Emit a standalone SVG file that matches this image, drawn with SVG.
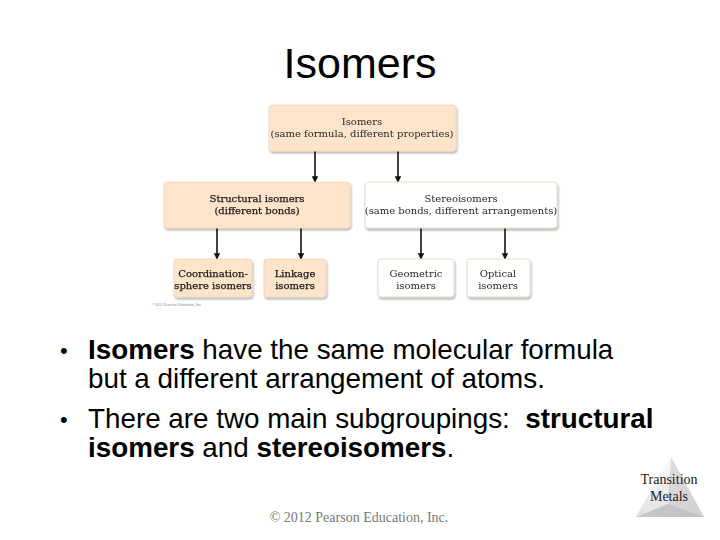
<svg xmlns="http://www.w3.org/2000/svg" width="720" height="540" viewBox="0 0 720 540">
<defs>
<style>
.node{font-family:"DejaVu Serif","Liberation Serif",serif;font-size:10px;fill:#2a2a2a;text-anchor:middle}
.b{fill:#1a1a1a;stroke:#1a1a1a;stroke-width:0.25}
.peach{fill:#fde4cb;stroke:#f3d6b8;stroke-width:0.8}
.white{fill:#ffffff;stroke:#e8dccd;stroke-width:1}
.body{font-family:"Liberation Sans",Arial,sans-serif;font-size:27.8px;fill:#000}
.bul{font-family:"Liberation Sans",Arial,sans-serif;font-size:22px;fill:#000}
.conn{stroke:#111;stroke-width:1.6;fill:none;marker-end:url(#ah)}
</style>
<marker id="ah" viewBox="0 0 10 10" refX="9" refY="5" markerWidth="4" markerHeight="4" orient="auto" markerUnits="strokeWidth">
<path d="M0,0 L10,5 L0,10 z" fill="#111"/>
</marker>
<filter id="sh" x="-10%" y="-10%" width="125%" height="135%">
<feGaussianBlur in="SourceAlpha" stdDeviation="1.2"/>
<feOffset dx="1" dy="1.5" result="b"/>
<feComponentTransfer><feFuncA type="linear" slope="0.3"/></feComponentTransfer>
<feMerge><feMergeNode/><feMergeNode in="SourceGraphic"/></feMerge>
</filter>
<linearGradient id="tg" x1="0" y1="0" x2="1" y2="1">
<stop offset="0" stop-color="#f4f4f4"/>
<stop offset="1" stop-color="#c8c8c8"/>
</linearGradient>
<linearGradient id="tg2" x1="0" y1="0" x2="0" y2="1">
<stop offset="0" stop-color="#ffffff"/>
<stop offset="1" stop-color="#e2e2e2"/>
</linearGradient>
</defs>
<rect width="720" height="540" fill="#fff"/>

<text x="360" y="78" font-family="Liberation Sans,Arial,sans-serif" font-size="43" text-anchor="middle" fill="#000">Isomers</text>

<g id="connectors">
<line class="conn" x1="315" y1="151" x2="315" y2="182"/>
<line class="conn" x1="398" y1="151" x2="398" y2="182"/>
<line class="conn" x1="217" y1="228" x2="217" y2="259"/>
<line class="conn" x1="301" y1="228" x2="301" y2="259"/>
<line class="conn" x1="421" y1="228" x2="421" y2="259"/>
<line class="conn" x1="505" y1="228" x2="505" y2="259"/>
</g>

<g id="n-isomers" filter="url(#sh)">
<rect class="peach" x="269" y="105" width="187" height="46" rx="3"/>
<text class="node" x="362" y="125">Isomers</text>
<text class="node" x="362" y="137">(same formula, different properties)</text>
</g>
<g id="n-structural" filter="url(#sh)">
<rect class="peach" x="164" y="182" width="186" height="46" rx="3"/>
<text class="node b" x="257" y="202">Structural isomers</text>
<text class="node b" x="257" y="214">(different bonds)</text>
</g>
<g id="n-stereo" filter="url(#sh)">
<rect class="white" x="365" y="182" width="192" height="46" rx="3"/>
<text class="node" x="461" y="202">Stereoisomers</text>
<text class="node" x="461" y="214">(same bonds, different arrangements)</text>
</g>
<g id="n-coord" filter="url(#sh)">
<rect class="peach" x="174" y="259" width="78" height="38" rx="3"/>
<text class="node b" x="213" y="277">Coordination-</text>
<text class="node b" x="213" y="289">sphere isomers</text>
</g>
<g id="n-linkage" filter="url(#sh)">
<rect class="peach" x="264" y="259" width="62" height="38" rx="3"/>
<text class="node b" x="295" y="277">Linkage</text>
<text class="node b" x="295" y="289">isomers</text>
</g>
<g id="n-geometric" filter="url(#sh)">
<rect class="white" x="378" y="259" width="76" height="38" rx="3"/>
<text class="node" x="416" y="277">Geometric</text>
<text class="node" x="416" y="289">isomers</text>
</g>
<g id="n-optical" filter="url(#sh)">
<rect class="white" x="467" y="259" width="63" height="38" rx="3"/>
<text class="node" x="498" y="277">Optical</text>
<text class="node" x="498" y="289">isomers</text>
</g>
<text x="152" y="306" font-family="Liberation Serif,serif" font-size="4" fill="#888">©2012 Pearson Education, Inc.</text>

<text class="bul" x="60" y="358">•</text>
<text class="bul" x="60" y="427">•</text>
<g class="body">
<text x="88" y="359"><tspan font-weight="bold">Isomers</tspan> have the same molecular formula</text>
<text x="88" y="388">but a different arrangement of atoms.</text>
<text x="88" y="428" xml:space="preserve">There are two main subgroupings:  <tspan font-weight="bold">structural</tspan></text>
<text x="88" y="457"><tspan font-weight="bold">isomers</tspan> and <tspan font-weight="bold">stereoisomers</tspan>.</text>
</g>

<g id="badge">
<polygon points="671,457 636,517 704,517" fill="url(#tg)"/>
<polygon points="671,457 636,517 668,504" fill="url(#tg2)" opacity="0.9"/>
<polygon points="671,457 668,504 704,517" fill="#d6d6d6" opacity="0.6"/>
<polygon points="636,517 668,504 704,517" fill="#bdbdbd" opacity="0.7"/>
<text x="669" y="484" font-family="Liberation Serif,serif" font-size="14" text-anchor="middle" fill="#222">Transition</text>
<text x="669" y="501" font-family="Liberation Serif,serif" font-size="14" text-anchor="middle" fill="#222">Metals</text>
</g>

<text x="359" y="522" font-family="Liberation Serif,serif" font-size="14" text-anchor="middle" fill="#777">© 2012 Pearson Education, Inc.</text>
</svg>
